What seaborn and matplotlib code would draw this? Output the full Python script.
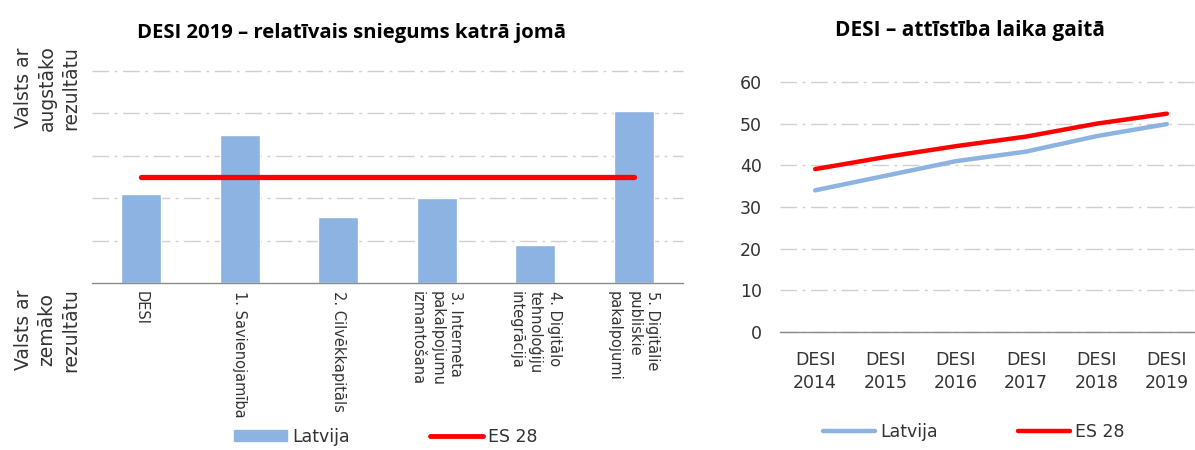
import numpy as np
import pandas as pd
import matplotlib
matplotlib.use("Agg")
import matplotlib.pyplot as plt
from matplotlib.lines import Line2D
from matplotlib.patches import Patch
import seaborn as sns

# ===== Data =====
areas = ["DESI", "1. Savienojamība", "2. Cilvēkkapitāls",
         "3. Interneta\npakalpojumu\nizmantošana",
         "4. Digitālo\ntehnoloģiju\nintegrācija",
         "5. Digitālie\npubliskie\npakalpojumi"]
latvia_rel = [0.42, 0.70, 0.31, 0.40, 0.18, 0.81]
eu_rel = [0.50, 0.50, 0.50, 0.50, 0.50, 0.50]

years = ["DESI\n2014", "DESI\n2015", "DESI\n2016", "DESI\n2017", "DESI\n2018", "DESI\n2019"]
latvia_score = [34.0, 37.5, 41.0, 43.3, 47.0, 49.9]
eu_score = [39.1, 42.0, 44.6, 46.9, 50.0, 52.4]

BLUE = "#8DB3E2"
RED = "#FF0000"
TXT = "#333333"
GRID = "#D0D0D0"
AXIS = "#8C8C8C"

sns.set_theme(style="white")
plt.rcParams["font.family"] = ["DejaVu Sans"]
plt.rcParams["text.color"] = TXT

fig = plt.figure(figsize=(11.95, 4.5), dpi=100)
W, H = 1195, 450


def px_axes(x0, x1, ytop, ybot):
    return fig.add_axes([x0 / W, 1 - ybot / H, (x1 - x0) / W, (ybot - ytop) / H])


def style_axes(ax):
    for s in ["left", "right", "top"]:
        ax.spines[s].set_visible(False)
    ax.spines["bottom"].set_color(AXIS)
    ax.spines["bottom"].set_linewidth(1)
    ax.tick_params(axis="y", length=0)
    ax.tick_params(axis="x", which="major", length=0)
    ax.set_xticks(np.arange(-0.5, 6.0, 1.0), minor=True)
    ax.tick_params(axis="x", which="minor", length=6, color=AXIS, width=1, direction="out")
    ax.set_xlabel("")
    ax.set_ylabel("")


# ===== Left: relative performance =====
ax1 = px_axes(92, 683, 71, 283)
df1 = pd.DataFrame({"area": areas, "Latvija": latvia_rel, "ES 28": eu_rel})
sns.barplot(data=df1, x="area", y="Latvija", color=BLUE, width=0.41,
            saturation=1, ax=ax1, zorder=2)
ax1.plot(np.arange(len(areas)), df1["ES 28"], color=RED, lw=3.8,
         solid_capstyle="round", zorder=3)
ax1.set_xlim(-0.5, 5.5)
ax1.set_ylim(0, 1.0)
ax1.set_yticks([0.2, 0.4, 0.6, 0.8, 1.0])
ax1.set_yticklabels([])
ax1.yaxis.grid(True, color=GRID, lw=1, ls=(0, (12, 4, 2, 4)), zorder=0)
for gl in ax1.get_ygridlines():
    gl.set_clip_on(False)
style_axes(ax1)
ax1.set_xticks(range(len(areas)))
ax1.set_xticklabels(areas, rotation=270, va="top", ha="center",
                    multialignment="left", fontsize=10.5, color=TXT,
                    family=["Liberation Sans Narrow", "DejaVu Sans"], linespacing=1.35)
ax1.tick_params(axis="x", which="major", pad=6)
ax1.set_title("DESI 2019 – relatīvais sniegums katrā jomā", fontsize=14.6,
              fontweight="bold", family="Open Sans", color="black", pad=24,
              x=(351 - 92) / 591)

fig.text(47 / W, 1 - 88 / H, "Valsts ar\naugstāko\nrezultātu", rotation=90,
         ha="center", va="center", fontsize=13.5, color=TXT, multialignment="center",
         linespacing=1.3)
fig.text(47 / W, 1 - 330 / H, "Valsts ar\nzemāko\nrezultātu", rotation=90,
         ha="center", va="center", fontsize=13.5, color=TXT, multialignment="center",
         linespacing=1.3)

h1 = [Patch(color=BLUE), Line2D([], [], color=RED, lw=3.5)]
fig.legend(h1, ["Latvija", "ES 28"], loc="center", bbox_to_anchor=(386 / W, 1 - 437 / H),
           ncol=2, frameon=False, fontsize=12.5, handlelength=3.05, handleheight=0.6,
           columnspacing=4.6, handletextpad=0.3)

# ===== Right: evolution over time =====
ax2 = px_axes(780, 1202, 82, 332)
df2 = pd.DataFrame({"year": years * 2,
                    "score": latvia_score + eu_score,
                    "series": ["Latvija"] * 6 + ["ES 28"] * 6})
sns.lineplot(data=df2, x="year", y="score", hue="series",
             palette={"Latvija": BLUE, "ES 28": RED}, lw=3.2, sort=False,
             legend=False, ax=ax2)
for ln in ax2.get_lines():
    ln.set_solid_capstyle("round")
ax2.set_xlim(-0.5, 5.5)
ax2.set_ylim(0, 60)
ax2.set_yticks(range(0, 61, 10))
ax2.yaxis.grid(True, color=GRID, lw=1, ls=(0, (12, 4, 2, 4)), zorder=0)
for gl in ax2.get_ygridlines():
    gl.set_clip_on(False)
style_axes(ax2)
ax2.set_xticks(range(len(years)))
ax2.set_xticklabels(years, fontsize=12.5, color=TXT, linespacing=1.3)
ax2.tick_params(axis="x", which="major", pad=14)
ax2.tick_params(axis="y", labelsize=12.5, labelcolor=TXT, pad=13)
ax2.set_title("DESI – attīstība laika gaitā", fontsize=15, fontweight="bold",
              family="Open Sans", color="black", x=(970 - 780) / 422, pad=33)

h2 = [Line2D([], [], color=BLUE, lw=3.2), Line2D([], [], color=RED, lw=3.2)]
fig.legend(h2, ["Latvija", "ES 28"], loc="center", bbox_to_anchor=(974 / W, 1 - 432 / H),
           ncol=2, frameon=False, fontsize=12.5, handlelength=3.0,
           columnspacing=4.6, handletextpad=0.3)

fig.savefig("out.png", dpi=100)
